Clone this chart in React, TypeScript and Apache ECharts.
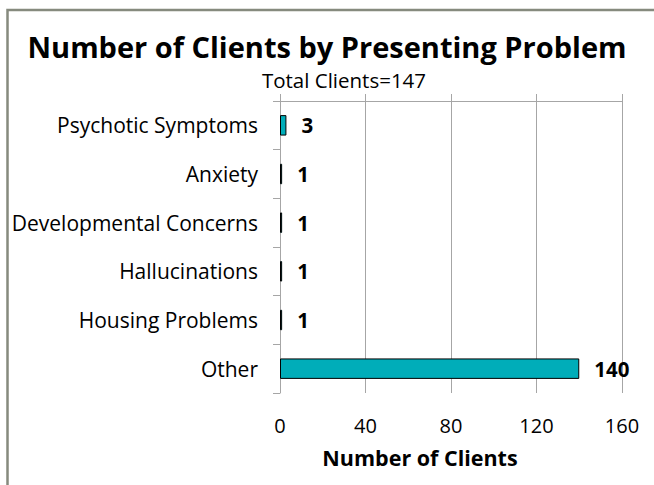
import React, { useEffect, useRef } from "react";
import * as echarts from "echarts";

const categories = [
  "Psychotic Symptoms",
  "Anxiety",
  "Developmental Concerns",
  "Hallucinations",
  "Housing Problems",
  "Other",
];
const clientCounts = [3, 1, 1, 1, 1, 140];
const xTicks = [0, 40, 80, 120, 160];
const titleText = "Number of Clients by Presenting Problem";
const subtitleText = "Total Clients=147";
const xAxisName = "Number of Clients";

const FONT = "Open Sans";

export default function App() {
  const ref = useRef<HTMLDivElement>(null);
  useEffect(() => {
    if (!ref.current) return;
    const chart = echarts.init(ref.current, null, { renderer: "svg" });
    const gridColor = "#a6a6a6";
    chart.setOption({
      animation: false,
      backgroundColor: "#ffffff",
      textStyle: { fontFamily: FONT },
      title: [
        {
          text: titleText,
          left: "center",
          top: 27,
          textStyle: { fontFamily: FONT, fontSize: 29, fontWeight: "bold", color: "#000" },
        },
        {
          text: subtitleText,
          left: 339,
          top: 64,
          textAlign: "center",
          textStyle: { fontFamily: FONT, fontSize: 20.5, fontWeight: "normal", color: "#000" },
        },
      ],
      grid: { left: 280, right: 32, top: 101, bottom: 92, containLabel: false },
      xAxis: [
        {
          type: "value",
          position: "bottom",
          min: xTicks[0],
          max: xTicks[xTicks.length - 1],
          interval: 40,
          axisLine: { show: false },
          axisTick: { show: false },
          splitLine: { show: true, lineStyle: { color: gridColor, width: 1 } },
          axisLabel: { color: "#000", fontSize: 20, margin: 22, fontFamily: FONT },
        },
        {
          type: "value",
          position: "top",
          min: xTicks[0],
          max: xTicks[xTicks.length - 1],
          interval: 40,
          axisLine: { show: true, lineStyle: { color: gridColor, width: 1 } },
          axisTick: { show: true, length: 7, lineStyle: { color: gridColor } },
          splitLine: { show: false },
          axisLabel: { show: false },
        },
      ],
      yAxis: {
        type: "category",
        data: categories,
        inverse: true,
        axisLine: { show: true, lineStyle: { color: gridColor, width: 1 } },
        axisTick: { show: true, length: 7, lineStyle: { color: gridColor } },
        axisLabel: { color: "#000", fontSize: 21, margin: 22, fontFamily: FONT },
      },
      series: [
        {
          type: "bar",
          xAxisIndex: 0,
          data: clientCounts,
          barWidth: "42%",
          itemStyle: { color: "#00adb9", borderColor: "#000", borderWidth: 1 },
          label: {
            show: true,
            position: "right",
            distance: 15,
            color: "#000",
            fontWeight: "bold",
            fontSize: 20.5,
            fontFamily: FONT,
          },
        },
      ],
      graphic: [
        {
          type: "rect",
          shape: { x: 7.5, y: 10, width: 800, height: 700 },
          style: { fill: "none", stroke: "#868a7e", lineWidth: 2.5 },
          silent: true,
        },
        {
          type: "text",
          x: 420,
          y: 457,
          style: {
            text: xAxisName,
            fontFamily: FONT,
            fontSize: 21.5,
            fontWeight: "bold",
            fill: "#000",
            align: "center",
            verticalAlign: "middle",
          },
        },
      ],
    });
    return () => chart.dispose();
  }, []);
  return (
    <div
      ref={ref}
      style={{ position: "fixed", left: 0, top: 0, width: 654, height: 485 }}
    />
  );
}
